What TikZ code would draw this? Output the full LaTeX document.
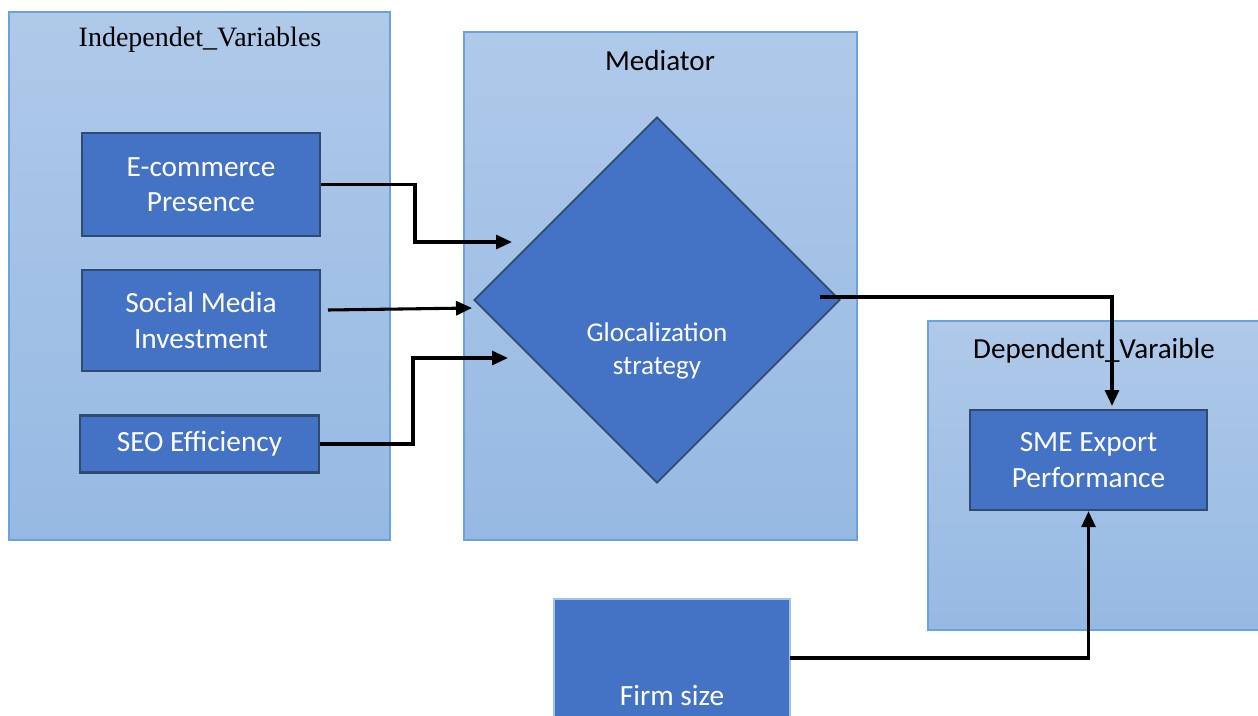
\documentclass[tikz,border=0pt]{standalone}
\usepackage{fontspec}
\setmainfont{Carlito}
\newfontfamily\titleserif{Liberation Serif}
\usetikzlibrary{shapes.geometric,arrows.meta}
\definecolor{boxfill}{HTML}{4472C4}
\definecolor{boxline}{HTML}{2F4B70}
\definecolor{contline}{HTML}{6AA3DC}
\definecolor{conttop}{HTML}{AFC9E9}
\definecolor{contbot}{HTML}{96B9E3}
\definecolor{firmline}{HTML}{9DC3E6}
\tikzset{
  container/.style={rectangle, draw=contline, line width=0.8pt, top color=conttop, bottom color=contbot, inner sep=0pt},
  varbox/.style={rectangle, draw=boxline, line width=1.8pt, fill=boxfill, text=white, align=center, inner sep=0pt, font=\fontsize{22}{26.5}\selectfont},
  firmbox/.style={rectangle, draw=firmline, line width=0.8pt, fill=boxfill, text=white, align=center, inner sep=0pt, font=\fontsize{22}{26.5}\selectfont},
  medshape/.style={diamond, draw=boxline, line width=1.3pt, fill=boxfill, inner sep=0pt, aspect=1},
  sanstitle/.style={font=\fontsize{21.8}{26}\selectfont, text=black},
  serftitle/.style={font=\titleserif\fontsize{21}{26}\selectfont, text=black},
  arr/.style={draw=black, line width=2.3pt, -{Triangle[length=12pt,width=10.5pt]}},
}
\begin{document}
\begin{tikzpicture}[x=0.75pt,y=-0.75pt]
\useasboundingbox (0,0) rectangle (1258,715);
\fill[white] (0,0) rectangle (1258,715);
% containers
\node[container, minimum width=285.75pt, minimum height=396pt] (indep) at (199.5,276) {};
\node[container, minimum width=294.75pt, minimum height=381pt] (medc) at (660.5,286) {};
\node[container, minimum width=250.5pt, minimum height=231.75pt] (depc) at (1095,475.5) {};
% titles
\node[serftitle] (t1) at (200,40) {Independet\_Variables};
\node[sanstitle] (t2) at (660,61) {Mediator};
\node[sanstitle] (t3) at (1094,351) {Dependent\_Varaible};
% boxes
\node[varbox, minimum width=178.5pt, minimum height=77.25pt] (ecom) at (201,184.5) {E-commerce\\Presence};
\node[varbox, minimum width=178.5pt, minimum height=75.75pt] (soc) at (201,320.5) {Social Media\\Investment};
\node[varbox, minimum width=179.25pt, minimum height=42.75pt] (seo) at (199.5,444) {SEO Efficiency};
\node[medshape, minimum width=274.5pt, minimum height=274.5pt,
  label={[text=white, align=center, font=\fontsize{20.3}{25}\selectfont, yshift=-38pt]center:Glocalization\\strategy}] (dia) at (657,300) {};
\node[varbox, minimum width=177.75pt, minimum height=75pt] (sme) at (1088.5,460) {SME Export\\Performance};
\node[firmbox, minimum width=177pt, minimum height=145.5pt] (firm) at (672,696) {Firm size};
% connector end points
\coordinate (e1) at (415,184.5);
\coordinate (m1) at (512,242);
\coordinate (s0) at (328,310);
\coordinate (m2) at (472,308);
\coordinate (g1) at (413,444);
\coordinate (m3) at (508,358);
\coordinate (d0) at (820,297);
\coordinate (d1) at (1112,406);
\coordinate (f0) at (790,658);
% connectors
\draw[arr] (ecom.east) -- (e1) |- (m1);
\draw[arr] (s0) -- (m2);
\draw[arr] (seo.east) -- (g1) |- (m3);
\draw[arr] (d0) -| (d1);
\draw[arr] (f0) -| (sme.south);
\end{tikzpicture}
\end{document}
